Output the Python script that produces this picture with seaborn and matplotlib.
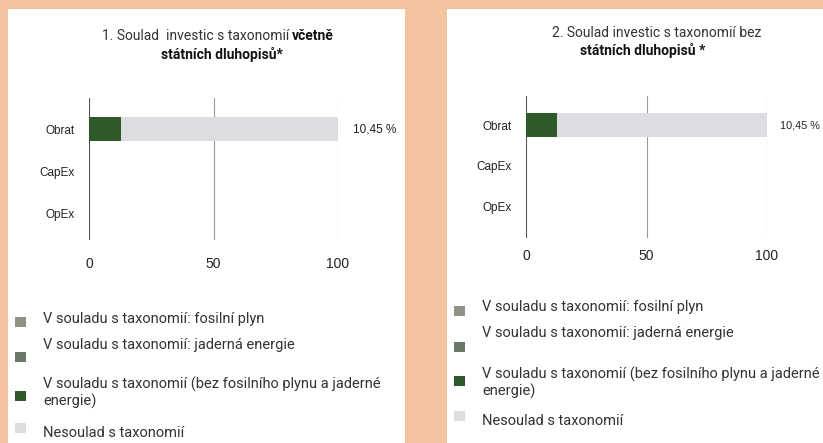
import matplotlib
matplotlib.use("Agg")
import matplotlib.pyplot as plt
import matplotlib.patches as mpatches
import seaborn as sns
import pandas as pd

# data
categories = ["Obrat", "CapEx", "OpEx"]
aligned_incl = [12.8, 0, 0]      # v souladu (bez plynu a jaderne)
aligned_excl = [12.7, 0, 0]
total_incl = [100, 0, 0]         # cely sloupec (nesoulad az do 100)
total_excl = [100, 0, 0]
value_labels = ["10,45 %", "10,45 %"]
xticks = [0, 50, 100]

legend_labels = [
    "V souladu s taxonomií: fosilní plyn",
    "V souladu s taxonomií: jaderná energie",
    "V souladu s taxonomií (bez fosilního plynu a jaderné\nenergie)",
    "Nesoulad s taxonomií",
]
legend_colors = ["#8f9383", "#6c7868", "#2e5a2b", "#dcdde0"]

PEACH = "#f4c4a0"
W, H = 823, 443

sns.set_theme(style="white")
plt.rcParams["font.family"] = ["Liberation Sans", "DejaVu Sans"]

fig = plt.figure(figsize=(W / 100, H / 100), dpi=100)
fig.patch.set_facecolor(PEACH)


def px(x, y):
    return x / W, 1 - y / H


# white panels (behind the axes)
for x0, y0, x1 in [(8, 9, 405), (447, 9, 823)]:
    fig.patches.append(mpatches.Rectangle(
        (x0 / W, 0), (x1 - x0) / W, 1 - y0 / H,
        transform=fig.transFigure, facecolor="white", edgecolor="none", zorder=-5))


def panel(rect, ylim, aligned, total, label, label_x, label_size, tick_pad):
    ax = fig.add_axes(rect)
    ax.set_facecolor("none")
    df = pd.DataFrame({"cat": categories, "total": total, "aligned": aligned})
    sns.barplot(data=df, x="total", y="cat", color=legend_colors[3],
                width=0.57, ax=ax, zorder=2, saturation=1, linewidth=0)
    sns.barplot(data=df, x="aligned", y="cat", color=legend_colors[2],
                width=0.57, ax=ax, zorder=3, saturation=1, linewidth=0)
    ax.set_xlim(0, 100)
    ax.set_ylim(*ylim)
    ax.set_xticks(xticks)
    for v in xticks:
        ax.axvline(v, color="#999999" if v else "#555555", lw=0.8, zorder=1)
    for s in ax.spines.values():
        s.set_visible(False)
    ax.set_xlabel("")
    ax.set_ylabel("")
    ax.tick_params(axis="x", length=0, pad=tick_pad, labelsize=10, colors="#222222")
    ax.tick_params(axis="y", length=0, pad=10, labelsize=8.5, colors="#222222")
    ax.text(label_x, 0, label, ha="left", va="center", fontsize=label_size,
            color="#222222", transform=ax.transData, clip_on=False)
    return ax


panel([89 / W, 1 - 240 / H, 249 / W, 142 / H], (2.64, -0.74),
      aligned_incl, total_incl, value_labels[0], 106, 8.5, 12)
panel([526 / W, 1 - 238 / H, 241 / W, 142 / H], (2.76, -0.71),
      aligned_excl, total_excl, value_labels[1], 105.5, 7.8, 8)

# titles
tfont = ["Roboto", "DejaVu Sans"]
fig.text(*px(289, 36), "1. Soulad  investic s taxonomií", ha="right", va="center",
         fontsize=10, family=tfont, color="#333333")
fig.text(*px(292, 36), "včetně", ha="left", va="center",
         fontsize=10, family=tfont, color="#111111", fontweight="bold")
fig.text(*px(222, 55), "státních dluhopisů*", ha="center", va="center",
         fontsize=10, family=tfont, color="#111111", fontweight="bold")
fig.text(*px(657, 33), "2. Soulad investic s taxonomií bez", ha="center", va="center",
         fontsize=10, family=tfont, color="#333333")
fig.text(*px(643, 51), "státních dluhopisů *", ha="center", va="center",
         fontsize=10, family=tfont, color="#111111", fontweight="bold")

# legends
lfont = ["Roboto", "DejaVu Sans"]


def legend(sq_x, txt_x, sq_ys, txt_ys):
    for lab, col, sy, ty in zip(legend_labels, legend_colors, sq_ys, txt_ys):
        fig.patches.append(mpatches.Rectangle(
            ((sq_x) / W, 1 - (sy + 5) / H), 11 / W, 10 / H,
            transform=fig.transFigure, facecolor=col, edgecolor="none"))
        fig.text(*px(txt_x, ty), lab, ha="left", va="top", fontsize=10.5,
                 family=lfont, color="#333333", linespacing=1.1)


legend(15, 43, [322, 357, 396, 428], [312, 338, 377, 426])
legend(454, 482, [311, 347, 381, 416], [300, 326, 367, 414])

fig.savefig("out.png", dpi=100, facecolor=PEACH)
